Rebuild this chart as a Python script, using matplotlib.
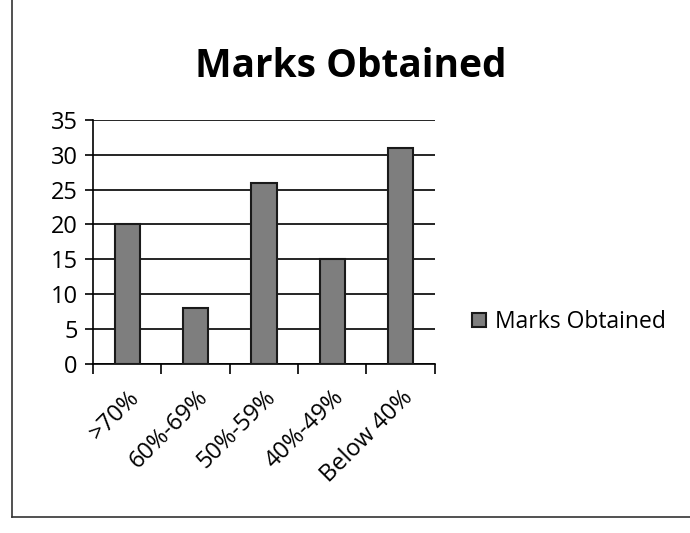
import matplotlib.pyplot as plt
from matplotlib.lines import Line2D

categories = [">70%", "60%-69%", "50%-59%", "40%-49%", "Below 40%"]
marks = [20, 8, 26, 15, 31]
yticks = [0, 5, 10, 15, 20, 25, 30, 35]

plt.rcParams["font.family"] = ["Open Sans", "DejaVu Sans"]

fig = plt.figure(figsize=(6.9, 5.33), dpi=100)
ax = fig.add_axes([0.135, 0.318, 0.495, 0.457])

x = range(len(categories))
ax.bar(x, marks, width=0.37, color="#7e7e7e", edgecolor="#1a1a1a", linewidth=1.5,
       label="Marks Obtained", zorder=3)

ax.set_ylim(0, 35)
ax.set_xlim(-0.5, len(categories) - 0.5)
ax.set_yticks(yticks)
ax.tick_params(axis="y", labelsize=17, length=6, width=1.2, direction="out", pad=5)
ax.yaxis.grid(True, color="black", linewidth=1.2, zorder=0)

ax.set_xticks([i - 0.5 for i in range(len(categories) + 1)], minor=False)
ax.set_xticklabels([])
ax.set_xticks(list(x), minor=True)
ax.set_xticklabels(categories, minor=True, rotation=45, ha="right",
                   rotation_mode="anchor", fontsize=17)
ax.tick_params(axis="x", which="major", length=7, width=1.2)
ax.tick_params(axis="x", which="minor", length=0, pad=16)

for s in ["top", "right"]:
    ax.spines[s].set_visible(False)
ax.spines["left"].set_linewidth(1.2)
ax.spines["bottom"].set_linewidth(1.2)

fig.text(0.508, 0.875, "Marks Obtained", ha="center", va="center",
         fontsize=28, fontweight="bold")

ax.legend(loc="center left", bbox_to_anchor=(1.05, 0.17), frameon=False,
          fontsize=16.5, handlelength=0.6, handleheight=0.6, handletextpad=0.4)

# chart border
fig.add_artist(Line2D([0.018, 0.018], [0.03, 1.0], color="#333333", lw=1.2))
fig.add_artist(Line2D([0.018, 1.0], [0.03, 0.03], color="#333333", lw=1.2))

fig.savefig("out.png", dpi=100, facecolor="white")
